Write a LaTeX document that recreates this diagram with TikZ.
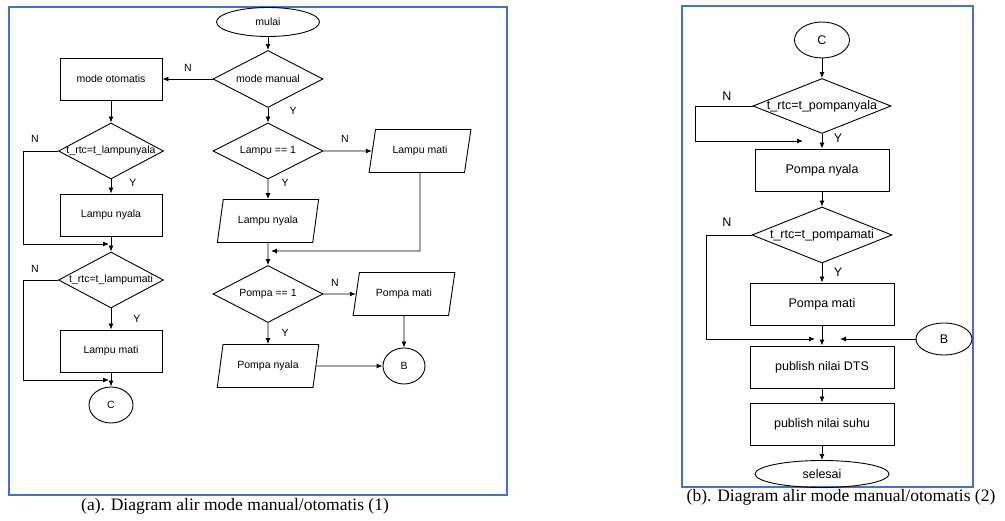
\documentclass[tikz,border=0pt]{standalone}
\usepackage{fontspec}
\setmainfont{Liberation Serif}
\newfontfamily\flowfont{Liberation Sans}
\usepackage{tikz}
\usetikzlibrary{shapes.geometric}
\usetikzlibrary{arrows.meta}
\definecolor{frameblue}{RGB}{68,114,196}

\begin{document}
\begin{tikzpicture}[x=1pt,y=-1pt,
    flow/.style={draw, line width=0.9pt, inner sep=0pt, font=\flowfont\fontsize{10.5}{12}\selectfont},
    big/.style={font=\flowfont\fontsize{12.5}{15}\selectfont},
    procbox/.style={flow, rectangle, minimum width=102pt, minimum height=42pt},
    decision/.style={flow, diamond, minimum width=110pt, minimum height=56pt},
    iobox/.style={flow, trapezium, trapezium left angle=68, trapezium right angle=112,
        trapezium stretches=true, minimum width=102pt, minimum height=43pt},
    terminal/.style={flow, ellipse},
    arr/.style={line width=0.9pt, -{Latex[length=6pt,width=5pt]}},
    yn/.style={font=\flowfont\fontsize{10.5}{12}\selectfont},
    frame/.style={draw=frameblue, line width=1.8pt},
    caption/.style={font=\fontsize{17.5}{20}\selectfont}]
    \useasboundingbox (0,0) rectangle (1005,521);

    % --- FIRST DIAGRAM (LEFT) ---
    \draw[frame] (9,7) rectangle (507,495);
    \node[terminal, minimum width=103pt, minimum height=29pt] (mulai) at (268,22) {mulai};
    \node[decision, minimum height=57pt] (mmanual) at (268,79) {\makebox[0pt]{mode manual}};
    \node[procbox] (motomatis) at (111,79) {mode otomatis};
    \node[decision, minimum width=105pt] (dlnyala) at (111,151) {\makebox[0pt]{t\_rtc=t\_lampunyala}};
    \node[procbox] (lnyalaA) at (111,215) {Lampu nyala};
    \node[decision, minimum width=105pt] (dlmati) at (111,280) {\makebox[0pt]{t\_rtc=t\_lampumati}};
    \node[procbox] (lmatiA) at (111,351) {Lampu mati};
    \node[terminal, minimum width=44pt, minimum height=36pt] (cA) at (111,405) {C};
    \node[decision] (dlampu) at (268,151) {\makebox[0pt]{Lampu == 1}};
    \node[iobox] (lnyalaB) at (268,221) {Lampu nyala};
    \node[iobox] (lmatiB) at (420,151) {Lampu mati};
    \node[decision, minimum height=57pt] (dpompa) at (268,294) {\makebox[0pt]{Pompa == 1}};
    \node[iobox] (pmatiB) at (404,294) {Pompa mati};
    \node[iobox] (pnyalaB) at (268,366) {Pompa nyala};
    \node[terminal, minimum width=42pt, minimum height=36pt] (bA) at (404,366) {B};

    \coordinate (kA1) at (23,244);
    \coordinate (jA1) at (109,244);
    \coordinate (kA2) at (23,380);
    \coordinate (jA2) at (109,380);
    \coordinate (kB1) at (420,251);
    \coordinate (jB1) at (271,251);

    \draw[arr] (mulai.south) -- (mmanual.north);
    \draw[arr] (mmanual.west) -- (motomatis.east);
    \draw[arr] (mmanual.south) -- (dlampu.north);
    \draw[arr] (motomatis.south) -- (dlnyala.north);
    \draw[arr] (dlnyala.south) -- (lnyalaA.north);
    \draw[arr] (dlnyala.west) -| (kA1) -- (jA1);
    \draw[arr] (lnyalaA.south) -- (dlmati.north);
    \draw[arr] (dlmati.south) -- (lmatiA.north);
    \draw[arr] (dlmati.west) -| (kA2) -- (jA2);
    \draw[arr] (lmatiA.south) -- (cA.north);
    \draw[arr] (dlampu.east) -- (lmatiB.west);
    \draw[arr] (dlampu.south) -- (lnyalaB.north);
    \draw[arr] (lmatiB.south) -- (kB1) -- (jB1);
    \draw[arr] (lnyalaB.south) -- (dpompa.north);
    \draw[arr] (dpompa.east) -- (pmatiB.west);
    \draw[arr] (dpompa.south) -- (pnyalaB.north);
    \draw[arr] (pnyalaB.east) -- (bA.west);
    \draw[arr] (pmatiB.south) -- (bA.north);

    \node[yn] (nA1) at (188,68) {N};
    \node[yn] (yA1) at (293,111) {Y};
    \node[yn] (nA2) at (35,139) {N};
    \node[yn] (yA2) at (133,183) {Y};
    \node[yn] (nA3) at (35,269) {N};
    \node[yn] (yA3) at (137,319) {Y};
    \node[yn] (nA4) at (345,139) {N};
    \node[yn] (yA4) at (285,183) {Y};
    \node[yn] (nA5) at (335,283) {N};
    \node[yn] (yA5) at (285,333) {Y};
    \node[caption] (capA) at (235,506) {(a). Diagram alir mode manual/otomatis (1)};

    % --- SECOND DIAGRAM (RIGHT) ---
    \draw[frame] (682,6) rectangle (973,487);
    \node[terminal, big, minimum width=55pt, minimum height=36pt] (cB) at (822,40) {C};
    \node[decision, big, minimum width=138pt, minimum height=55pt] (dpnyala) at (822,106) {\makebox[0pt]{t\_rtc=t\_pompanyala}};
    \node[procbox, big, minimum width=134pt] (pnyalaR) at (822,170) {Pompa nyala};
    \node[decision, big, minimum width=140pt, minimum height=56pt] (dpmati) at (822,235) {\makebox[0pt]{t\_rtc=t\_pompamati}};
    \node[procbox, big, minimum width=144pt] (pmatiR) at (822,304) {Pompa mati};
    \node[procbox, big, minimum width=144pt] (dts) at (822,367) {publish nilai DTS};
    \node[procbox, big, minimum width=144pt] (suhu) at (822,424) {publish nilai suhu};
    \node[terminal, big, minimum width=134pt, minimum height=27pt] (selesai) at (822,474) {selesai};
    \node[terminal, big, minimum width=56pt, minimum height=32pt] (bB) at (944,339) {B};

    \coordinate (kR1) at (695,141);
    \coordinate (jR1) at (803,141);
    \coordinate (kR2) at (706,339);
    \coordinate (jR2) at (815,339);
    \coordinate (jR3) at (840,339);

    \draw[arr] (cB.south) -- (dpnyala.north);
    \draw[arr] (dpnyala.south) -- (pnyalaR.north);
    \draw[arr] (dpnyala.west) -| (kR1) -- (jR1);
    \draw[arr] (pnyalaR.south) -- (dpmati.north);
    \draw[arr] (dpmati.south) -- (pmatiR.north);
    \draw[arr] (dpmati.west) -| (kR2) -- (jR2);
    \draw[arr] (pmatiR.south) -- (dts.north);
    \draw[arr] (bB.west) -- (jR3);
    \draw[arr] (dts.south) -- (suhu.north);
    \draw[arr] (suhu.south) -- (selesai.north);

    \node[yn, big] (nR1) at (727,96) {N};
    \node[yn, big] (yR1) at (838,138) {Y};
    \node[yn, big] (nR2) at (727,222) {N};
    \node[yn, big] (yR2) at (838,272) {Y};
    \node[caption] (capB) at (841,497) {(b). Diagram alir mode manual/otomatis (2)};
\end{tikzpicture}
\end{document}
